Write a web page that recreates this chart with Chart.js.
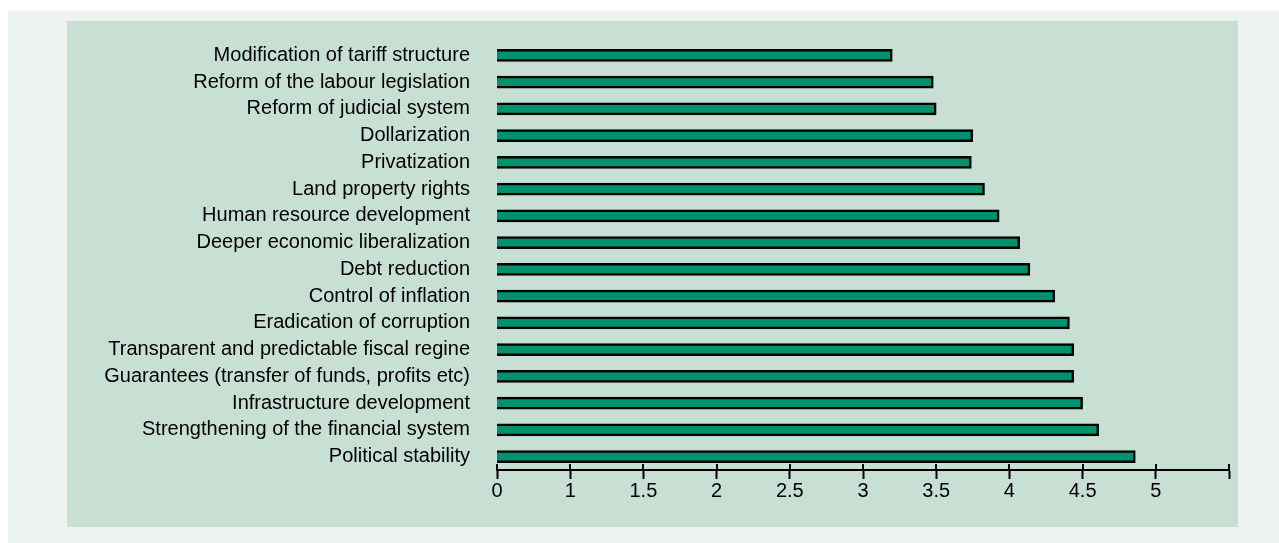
<!DOCTYPE html>
<html>
<head>
<meta charset="utf-8">
<script src="https://cdn.jsdelivr.net/npm/chart.js@4"></script>
<style>
    html, body { margin: 0; padding: 0; background: #ffffff; }
    #outer {
        position: absolute; left: 8px; top: 11px;
        width: 1271px; height: 532px; background: #edf3f0;
    }
    #panel {
        position: absolute; left: 59px; top: 10px;
        width: 1171px; height: 506px; background: #c8dfd4;
    }
</style>
</head>
<body>
<div id="outer">
    <div id="panel"><canvas id="reformChart"></canvas></div>
</div>
<script>
// categories, top to bottom
const categories = [
    'Modification of tariff structure',
    'Reform of the labour legislation',
    'Reform of judicial system',
    'Dollarization',
    'Privatization',
    'Land property rights',
    'Human resource development',
    'Deeper economic liberalization',
    'Debt reduction',
    'Control of inflation',
    'Eradication of corruption',
    'Transparent and predictable fiscal regine',
    'Guarantees (transfer of funds, profits etc)',
    'Infrastructure development',
    'Strengthening of the financial system',
    'Political stability'
];
const scores = [3.20, 3.48, 3.50, 3.75, 3.74, 3.83, 3.93, 4.07, 4.14, 4.31, 4.41, 4.44, 4.44, 4.50, 4.61, 4.86];
// axis starts at 0.5 but the first tick reads "0"
const tickValues = [0.5, 1, 1.5, 2, 2.5, 3, 3.5, 4, 4.5, 5, 5.5];
const tickLabels = ['0', '1', '1.5', '2', '2.5', '3', '3.5', '4', '4.5', '5', ''];

// tick marks crossing the x axis line
const crossTicks = {
    id: 'crossTicks',
    afterDraw(chart) {
        const scale = chart.scales.x;
        const ctx = chart.ctx;
        ctx.save();
        ctx.strokeStyle = '#000';
        ctx.lineWidth = 2;
        scale.ticks.forEach(t => {
            const px = Math.round(scale.getPixelForValue(t.value));
            ctx.beginPath();
            ctx.moveTo(px, scale.top - 6);
            ctx.lineTo(px, scale.top);
            ctx.stroke();
        });
        ctx.restore();
    }
};

const ctx = document.getElementById('reformChart').getContext('2d');
new Chart(ctx, {
    type: 'bar',
    data: {
        labels: categories,
        datasets: [{
            data: scores,
            backgroundColor: '#00926e',
            borderColor: '#000000',
            borderWidth: 2.5,
            borderSkipped: false,
            barThickness: 12
        }]
    },
    options: {
        indexAxis: 'y',
        responsive: true,
        maintainAspectRatio: false,
        animation: false,
        layout: { padding: { top: 21, right: 9, left: 0, bottom: 0 } },
        scales: {
            x: {
                type: 'linear',
                min: 0.5,
                max: 5.5,
                afterBuildTicks: scale => {
                    scale.ticks = tickValues.map(v => ({ value: v }));
                },
                afterFit: scale => {
                    scale.height = 57;
                    scale.paddingLeft = 0;
                    scale.paddingRight = 0;
                },
                ticks: {
                    padding: 0,
                    color: '#000',
                    font: { family: "'Liberation Sans', Arial, sans-serif", size: 20 },
                    callback: (value, i) => tickLabels[i]
                },
                grid: {
                    drawOnChartArea: false,
                    drawTicks: true,
                    tickLength: 9,
                    tickColor: '#000',
                    tickWidth: 2
                },
                border: { display: true, color: '#000', width: 2 }
            },
            y: {
                afterFit: scale => {
                    scale.width = 430;
                    scale.paddingTop = 0;
                    scale.paddingBottom = 0;
                },
                ticks: {
                    autoSkip: false,
                    padding: 27,
                    color: '#000',
                    font: { family: "'Liberation Sans', Arial, sans-serif", size: 20 }
                },
                grid: { display: false, drawTicks: false },
                border: { display: false }
            }
        },
        plugins: {
            legend: { display: false },
            tooltip: { enabled: false }
        }
    },
    plugins: [crossTicks]
});
</script>
</body>
</html>
